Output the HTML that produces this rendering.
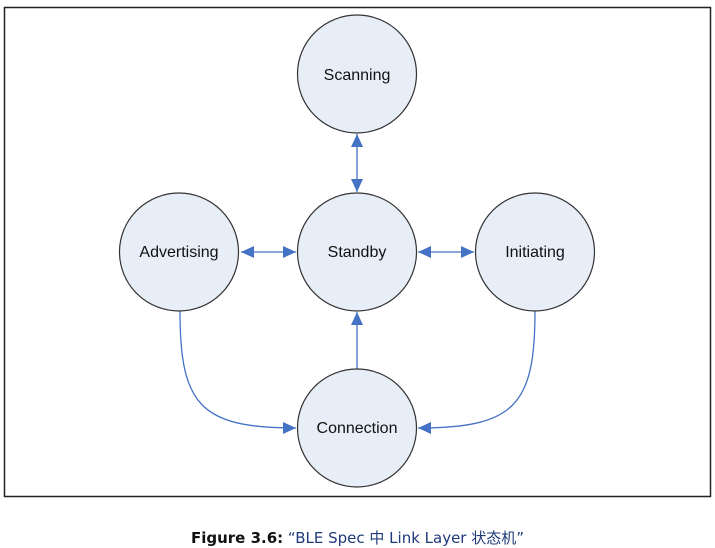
<!DOCTYPE html>
<html><head><meta charset="utf-8"><style>
html,body{margin:0;padding:0;background:#fff;width:715px;height:547px;overflow:hidden}
svg{position:absolute;left:0;top:0}
.cap{position:absolute;left:0;width:715px;top:527px;text-align:center;font-family:"DejaVu Sans","Noto Sans CJK SC",sans-serif;font-size:15px;color:#1f3a7a;white-space:nowrap}
.cap b{color:#111}
</style></head><body>
<svg width="715" height="547" viewBox="0 0 715 547">
<defs>
<marker id="a" markerWidth="13" markerHeight="12" refX="13" refY="6" orient="auto" markerUnits="userSpaceOnUse">
<path d="M0,0 L13,6 L0,12 Z" fill="#4472c4"/>
</marker>
<marker id="s" markerWidth="13" markerHeight="12" refX="0" refY="6" orient="auto" markerUnits="userSpaceOnUse">
<path d="M13,0 L0,6 L13,12 Z" fill="#4472c4"/>
</marker>
</defs>
<rect x="4.5" y="7.5" width="706" height="489" fill="none" stroke="#222" stroke-width="1.5"/>
<g stroke="#4472c4" stroke-width="1.3" fill="none">
<line x1="357" y1="134" x2="357" y2="192" marker-start="url(#s)" marker-end="url(#a)"/>
<line x1="241" y1="252" x2="296" y2="252" marker-start="url(#s)" marker-end="url(#a)"/>
<line x1="418" y1="252" x2="474" y2="252" marker-start="url(#s)" marker-end="url(#a)"/>
<line x1="357" y1="369" x2="357" y2="312" marker-end="url(#a)"/>
<path d="M180,311 C180,405 200,428 296,428" marker-end="url(#a)"/>
<path d="M535,311 C535,405 515,428 418,428" marker-end="url(#a)"/>
</g>
<g fill="#e8eef8" stroke="#333" stroke-width="1.2">
<ellipse cx="357" cy="74" rx="59.5" ry="59"/>
<ellipse cx="357" cy="252" rx="59.5" ry="59"/>
<ellipse cx="179" cy="252" rx="59.5" ry="59"/>
<ellipse cx="535" cy="252" rx="59.5" ry="59"/>
<ellipse cx="357" cy="428" rx="59.5" ry="59"/>
</g>
<g font-family="Liberation Sans, sans-serif" font-size="16" fill="#111" text-anchor="middle">
<text x="357" y="80">Scanning</text>
<text x="357" y="257">Standby</text>
<text x="179" y="257">Advertising</text>
<text x="535" y="257">Initiating</text>
<text x="357" y="433">Connection</text>
</g>
</svg>
<div class="cap"><b>Figure 3.6</b><b>:</b> “BLE Spec 中 Link Layer 状态机”</div>
</body></html>
